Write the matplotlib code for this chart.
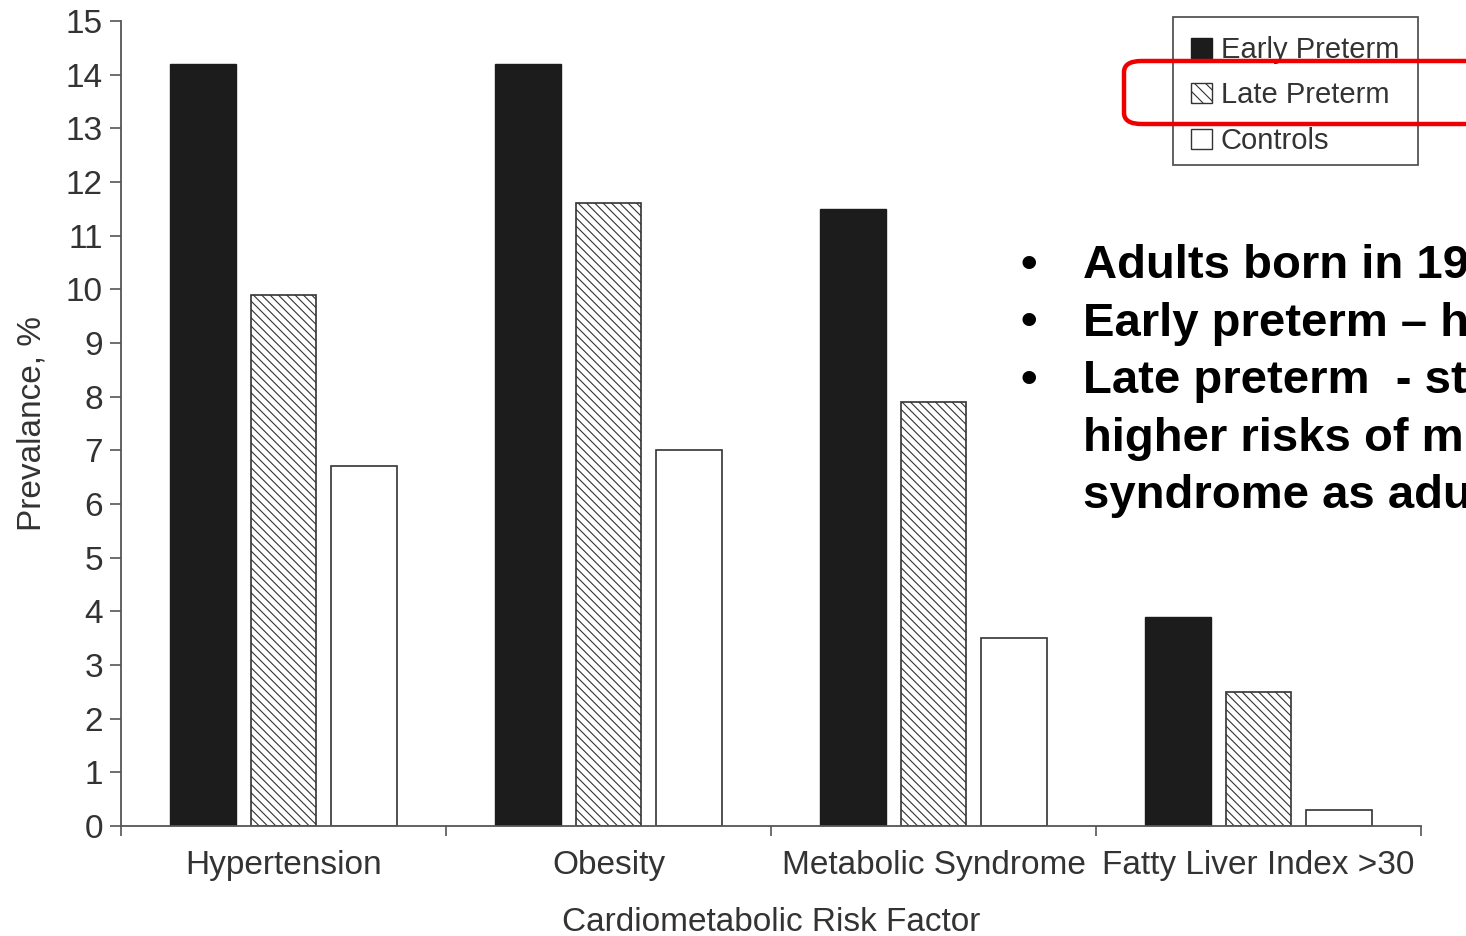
import matplotlib
matplotlib.use("Agg")
import matplotlib.pyplot as plt
from matplotlib.patches import FancyBboxPatch, Patch, Rectangle
import numpy as np

categories = ["Hypertension", "Obesity", "Metabolic Syndrome", "Fatty Liver Index >30"]
early_preterm = [14.2, 14.2, 11.5, 3.9]
late_preterm = [9.9, 11.6, 7.9, 2.5]
controls = [6.7, 7.0, 3.5, 0.3]
series_names = ["Early Preterm", "Late Preterm", "Controls"]
y_ticks = list(range(0, 16))
bullets = ["Adults born in 19", "Early preterm \u2013 h", "Late preterm  - st"]
bullet_cont = ["higher risks of m", "syndrome as adu"]

plt.rcParams['font.family'] = ['Liberation Sans', 'DejaVu Sans']
plt.rcParams['hatch.linewidth'] = 0.8
plt.rcParams['hatch.color'] = '#333333'

fig = plt.figure(figsize=(14.66, 9.36), dpi=100)
ax = fig.add_axes([121/1466, 1-826/936, (1421-121)/1466, (826-21)/936])

x = np.arange(len(categories))
w = 0.203
off = 0.249
ax.bar(x - off, early_preterm, w, color='#1c1c1c', edgecolor='#1c1c1c', linewidth=1)
ax.bar(x, late_preterm, w, color='white', edgecolor='#333333', linewidth=1.2, hatch='\\\\\\\\')
ax.bar(x + off, controls, w, color='white', edgecolor='#333333', linewidth=1.2)

ax.set_xlim(-0.5, 3.5)
ax.set_ylim(0, 15)
ax.set_yticks(y_ticks)
ax.set_xticks(np.arange(-0.5, 3.6, 1.0))
ax.set_xticklabels([])
ax.set_xticks(x, minor=True)
ax.set_xticklabels(categories, minor=True)
ax.tick_params(axis='x', which='minor', length=0, pad=17, labelsize=24, labelcolor='#333333')
ax.tick_params(axis='x', which='major', length=7, width=1.2, color='#555555')
ax.tick_params(axis='y', length=8, width=1.2, color='#555555', labelsize=24, labelcolor='#333333', pad=5)
for s in ['top', 'right']:
    ax.spines[s].set_visible(False)
for s in ['left', 'bottom']:
    ax.spines[s].set_color('#555555')
    ax.spines[s].set_linewidth(1.3)

ax.set_ylabel("Prevalance, %", fontsize=24, color='#333333', labelpad=13)
ax.set_xlabel("Cardiometabolic Risk Factor", fontsize=24, color='#333333', labelpad=19)

handles = [Patch(facecolor='#1c1c1c', edgecolor='#1c1c1c'),
           Patch(facecolor='white', edgecolor='#333333', hatch='\\\\\\'),
           Patch(facecolor='white', edgecolor='#333333')]
leg = fig.legend(handles, series_names, loc='upper right',
                 bbox_to_anchor=(1418/1466, 1-17/936), fontsize=21,
                 frameon=False,
                 handlelength=0.7, handleheight=0.7, handletextpad=0.3,
                 labelspacing=0.6, borderpad=0.65, borderaxespad=0)
for t in leg.get_texts():
    t.set_color('#333333')

# legend frame
fig.add_artist(Rectangle((1173/1466, 1-165/936), (1418-1173)/1466, (165-17)/936,
                         transform=fig.transFigure, facecolor='none',
                         edgecolor='#555555', linewidth=1.3, zorder=4))

# red highlight box
rb = FancyBboxPatch((1124/1466, 1-124/936), (1490-1124)/1466, (124-61)/936,
                    boxstyle="round,pad=0,rounding_size=0.012",
                    transform=fig.transFigure, facecolor='none',
                    edgecolor='#ee0000', linewidth=3.2, clip_on=False, zorder=10)
fig.add_artist(rb)

# bullet text
baselines = [278, 335.5, 393, 450.5, 508]
for i, txt in enumerate(bullets):
    fig.text(1020/1466, 1-baselines[i]/936, "\u2022", fontsize=34, fontweight='bold',
             va='baseline', ha='left', color='black')
    fig.text(1083/1466, 1-baselines[i]/936, txt, fontsize=34, fontweight='bold',
             va='baseline', ha='left', color='black')
for j, txt in enumerate(bullet_cont):
    fig.text(1083/1466, 1-baselines[3+j]/936, txt, fontsize=34, fontweight='bold',
             va='baseline', ha='left', color='black')

fig.savefig("out.png", dpi=100, facecolor='white')
